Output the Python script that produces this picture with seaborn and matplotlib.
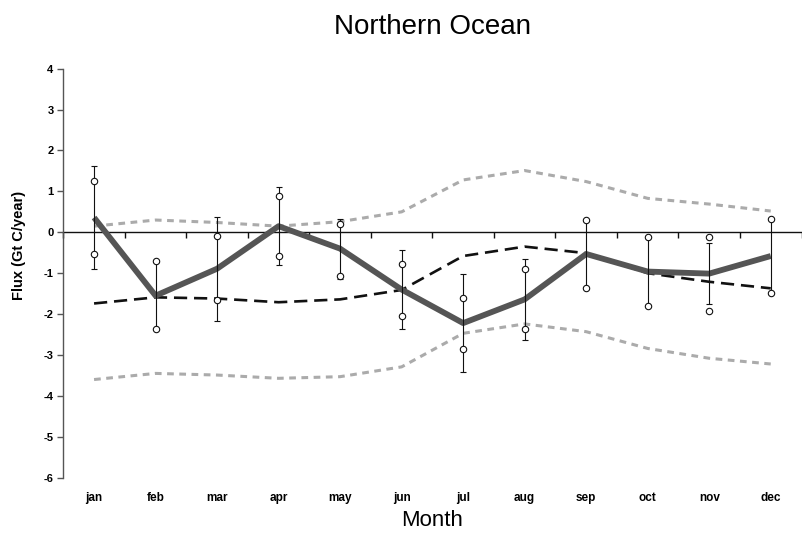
import numpy as np
import pandas as pd
import matplotlib
matplotlib.use("Agg")
import matplotlib.pyplot as plt
import seaborn as sns

# ---- data ----
months = ['jan', 'feb', 'mar', 'apr', 'may', 'jun', 'jul', 'aug', 'sep', 'oct', 'nov', 'dec']
flux_mean = [0.36, -1.55, -0.89, 0.15, -0.40, -1.40, -2.22, -1.64, -0.53, -0.96, -1.01, -0.58]
flux_err = [1.25, 0.82, 1.27, 0.95, 0.73, 0.96, 1.19, 0.99, 0.83, 0.85, 0.74, 0.91]
obs_high = [1.25, -0.70, -0.09, 0.89, 0.20, -0.78, -1.61, -0.89, 0.30, -0.11, -0.11, 0.33]
obs_low = [-0.53, -2.37, -1.65, -0.57, -1.06, -2.04, -2.85, -2.37, -1.35, -1.80, -1.93, -1.48]
model_flux = [-1.74, -1.59, -1.62, -1.71, -1.64, -1.41, -0.58, -0.35, -0.51, -1.00, -1.21, -1.37]
model_upper = [0.15, 0.30, 0.24, 0.15, 0.26, 0.50, 1.28, 1.51, 1.24, 0.83, 0.69, 0.52]
model_lower = [-3.60, -3.45, -3.49, -3.57, -3.53, -3.29, -2.47, -2.24, -2.43, -2.84, -3.08, -3.22]
y_ticks = [-6, -5, -4, -3, -2, -1, 0, 1, 2, 3, 4]

df = pd.DataFrame({
    'month': months, 'mean': flux_mean, 'err': flux_err,
    'hi': obs_high, 'lo': obs_low, 'model': model_flux,
    'upper': model_upper, 'lower': model_lower,
})
df['pos'] = np.arange(len(months))

sns.set_style("white")
plt.rcParams['font.family'] = ['Liberation Sans', 'DejaVu Sans']
plt.rcParams['text.color'] = 'black'
plt.rcParams['axes.labelcolor'] = 'black'
plt.rcParams['xtick.color'] = 'black'
plt.rcParams['ytick.color'] = 'black'

W, H = 802, 535
fig = plt.figure(figsize=(W / 100, H / 100), dpi=100)
left, right, top, bottom = 63.3, 801.5, 68.7, 477.7
ax = fig.add_axes([left / W, 1 - bottom / H, (right - left) / W, (bottom - top) / H])

gray_dot = '#ababab'
sns.lineplot(data=df, x='pos', y='upper', ax=ax, color=gray_dot, lw=2.2,
             dashes=False, linestyle=(0, (2.2, 1.8)), zorder=2)
sns.lineplot(data=df, x='pos', y='lower', ax=ax, color=gray_dot, lw=2.2,
             dashes=False, linestyle=(0, (2.2, 1.8)), zorder=2)
sns.lineplot(data=df, x='pos', y='model', ax=ax, color='#111111', lw=1.9,
             linestyle=(0, (5.0, 2.6)), zorder=3)
sns.lineplot(data=df, x='pos', y='mean', ax=ax, color='#555555', lw=4.2,
             solid_capstyle='butt', zorder=4)
ax.errorbar(df['pos'], df['mean'], yerr=df['err'], fmt='none', ecolor='#111111',
            elinewidth=0.8, capsize=2.4, capthick=0.8, zorder=5)
for col in ['hi', 'lo']:
    ax.plot(df['pos'], df[col], linestyle='none', marker='o', markersize=4.6,
            markerfacecolor='white', markeredgecolor='#111111', markeredgewidth=0.8,
            zorder=6)

ax.set_xlim(-0.5, len(months) - 0.5)
ax.set_ylim(-6, 4)
ax.set_yticks(y_ticks)
ax.set_yticklabels([str(t) for t in y_ticks], fontsize=8, fontweight='bold')
ax.set_xticks(df['pos'])
ax.set_xticklabels(months, fontsize=8.5, fontweight='bold')
ax.tick_params(axis='x', length=0, pad=10)
ax.tick_params(axis='y', direction='out', length=4, width=1, color='#555555', pad=3, left=True)

for s in ['top', 'right', 'bottom']:
    ax.spines[s].set_visible(False)
ax.spines['left'].set_color('#555555')
ax.spines['left'].set_linewidth(1.0)

# zero line axis with tick marks between categories
sec = ax.secondary_xaxis(6 / 10)
sec.set_xticks(np.arange(-0.5, len(months), 1.0))
sec.set_xticklabels([''] * (len(months) + 1))
sec.xaxis.set_ticks_position('bottom')
sec.tick_params(axis='x', direction='out', length=4, width=1, color='#111111')
for s in sec.spines:
    sec.spines[s].set_visible(False)
sec.spines['bottom'].set_visible(True)
sec.spines['bottom'].set_color('#111111')
sec.spines['bottom'].set_linewidth(1.0)

ax.set_xlabel('Month', fontsize=16)
ax.xaxis.set_label_coords(0.5, -0.08)
ax.xaxis.label.set_va('top')
ax.set_ylabel('Flux (Gt C/year)', fontsize=10.5, fontweight='bold')
ax.yaxis.set_label_coords(-0.05, 0.569)

ax.set_title('Northern Ocean', fontsize=20, pad=25)

fig.savefig('out.png', dpi=100)
